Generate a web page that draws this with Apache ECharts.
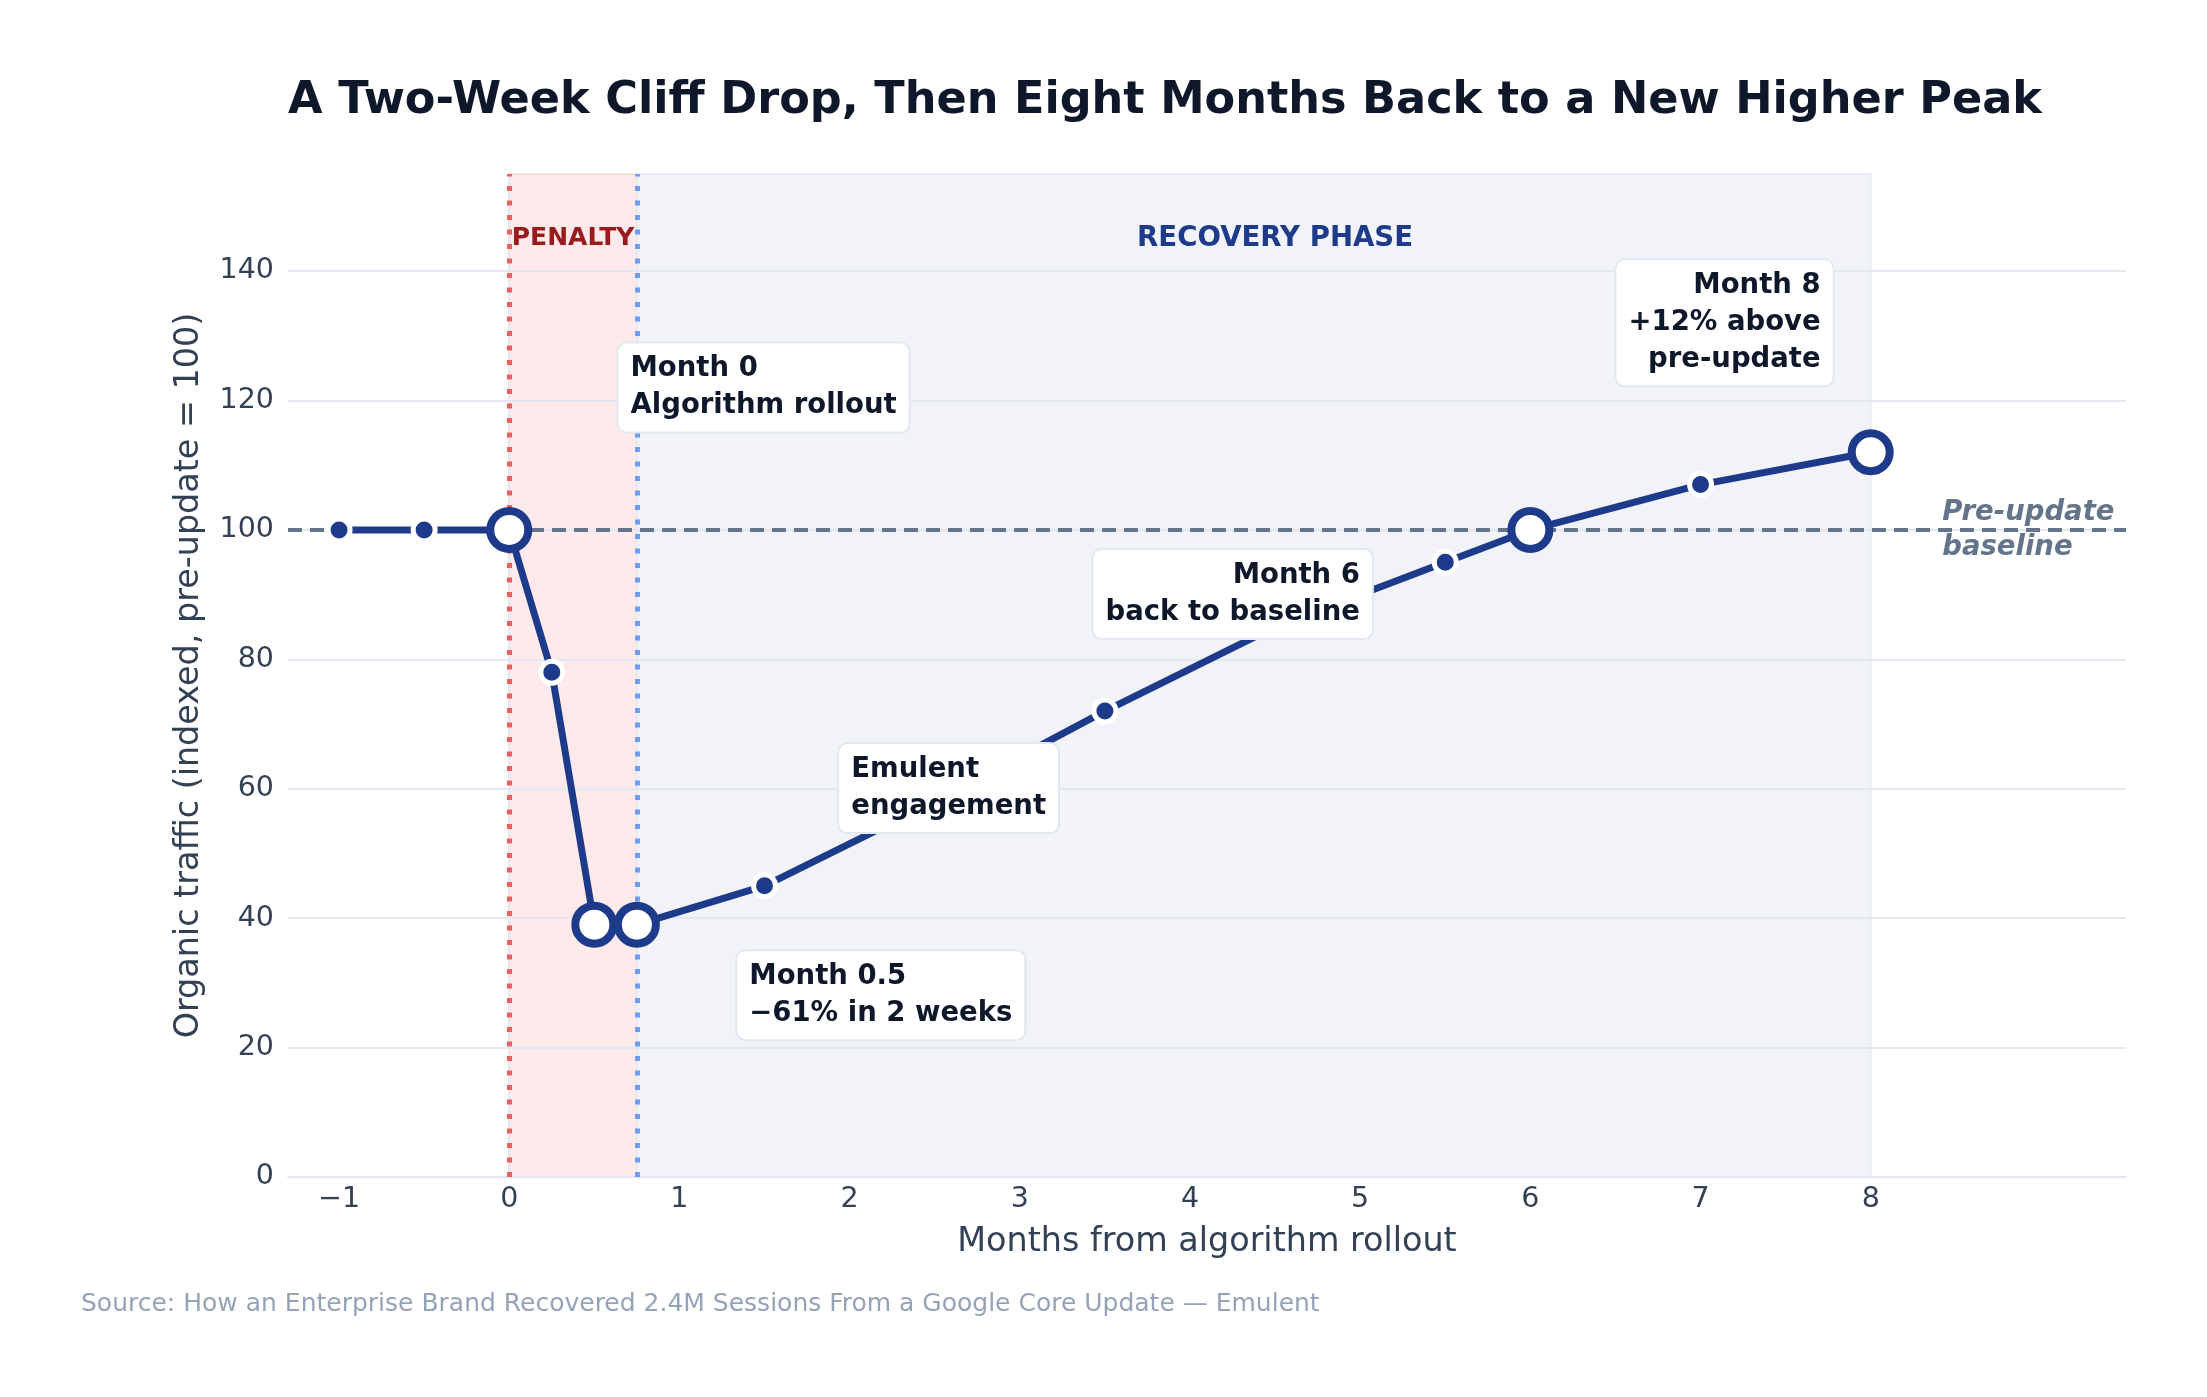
<!DOCTYPE html>
<html>
<head>
<meta charset="utf-8">
<script src="https://cdn.jsdelivr.net/npm/echarts@6/dist/echarts.min.js"></script>
<style>
    html, body { margin: 0; padding: 0; background: #ffffff; }
    #chart { width: 2207px; height: 1397px; }
</style>
</head>
<body>
<div id="chart"></div>
<script>
// ---------------- data ----------------
const months = [-1, -0.5, 0, 0.25, 0.5, 0.75, 1.5, 2.5, 3.5, 4.5, 5.5, 6, 7, 8];
const traffic = [100, 100, 100, 78, 39, 39, 45, 58, 72, 85, 95, 100, 107, 112];
const milestoneMonths = [0, 0.5, 0.75, 6, 8];

const xTicks = [-1, 0, 1, 2, 3, 4, 5, 6, 7, 8];
const yTicks = [0, 20, 40, 60, 80, 100, 120, 140];

const baselineValue = 100;
const rolloutMonth = 0;
const recoveryStart = 0.75;
const recoveryEnd = 8;

const phaseNames = ['PENALTY', 'RECOVERY PHASE'];
const phaseX = [0.375, 4.5];
const phaseY = 145;

const noteTexts = [
    'Month 0\nAlgorithm rollout',
    'Month 0.5\n\u221261% in 2 weeks',
    'Emulent\nengagement',
    'Month 6\nback to baseline',
    'Month 8\n+12% above\npre-update'
];
const noteX = [0.642, 1.34, 1.939, 5.069, 7.776];
const noteY = [122, 28.1, 60.1, 90.1, 132];
const noteSide = ['right', 'right', 'right', 'left', 'left'];

const baselineText = 'Pre-update\nbaseline';
const baselineTextX = 8.42;

// ----------------------------------------------------
const FONT = 'DejaVu Sans';
const NAVY = '#1e3a8a';

let lineData = [];
for (let i = 0; i < months.length; i++) {
    let big = milestoneMonths.indexOf(months[i]) >= 0;
    lineData.push({
        value: [months[i], traffic[i]],
        symbolSize: big ? 38 : 22,
        itemStyle: big
            ? { color: '#ffffff', borderColor: NAVY, borderWidth: 8 }
            : { color: NAVY, borderColor: '#ffffff', borderWidth: 5 }
    });
}

let noteData = [];
for (let i = 0; i < noteTexts.length; i++) {
    noteData.push({
        value: [noteX[i], noteY[i]],
        label: { position: noteSide[i], formatter: noteTexts[i] }
    });
}

let phaseData = [];
for (let i = 0; i < phaseNames.length; i++) {
    phaseData.push({
        value: [phaseX[i], phaseY],
        label: {
            formatter: phaseNames[i],
            color: i === 0 ? '#991b1b' : NAVY,
            fontSize: i === 0 ? 25 : 27.6
        }
    });
}

let chart = echarts.init(document.getElementById('chart'), null, { renderer: 'canvas' });
let option = {
    animation: false,
    backgroundColor: '#ffffff',
    textStyle: { fontFamily: FONT },
    grid: { left: 288, right: 81, top: 174, bottom: 220 },
    xAxis: {
        type: 'value',
        min: -1.3,
        max: 9.5,
        name: 'Months from algorithm rollout',
        nameLocation: 'middle',
        nameGap: 49,
        nameTextStyle: { fontSize: 33.4, color: '#334155', fontFamily: FONT },
        axisLine: { show: true, onZero: false, lineStyle: { color: '#e2e8f0', width: 2 } },
        axisTick: { show: false, customValues: xTicks },
        axisLabel: {
            customValues: xTicks,
            margin: 8,
            fontSize: 28.5,
            color: '#334155',
            fontFamily: FONT,
            formatter: function (v) { return v < 0 ? '\u2212' + Math.abs(v) : String(v); }
        },
        splitLine: { show: false }
    },
    yAxis: {
        type: 'value',
        min: 0,
        max: 155,
        name: 'Organic traffic (indexed, pre-update = 100)',
        nameLocation: 'middle',
        nameGap: 82,
        nameTextStyle: { fontSize: 33.4, color: '#334155', fontFamily: FONT },
        axisLine: { show: true, lineStyle: { color: '#e2e8f0', width: 2 } },
        axisTick: { show: false, customValues: yTicks },
        axisLabel: {
            customValues: yTicks,
            margin: 14,
            fontSize: 28.5,
            color: '#334155',
            fontFamily: FONT
        },
        splitLine: { show: true, lineStyle: { color: '#e2e8f0', width: 2 } }
    },
    series: [
        {
            // shaded phases, under the grid lines
            type: 'line',
            data: [],
            silent: true,
            markArea: {
                silent: true,
                z: -1,
                data: [
                    [{ xAxis: rolloutMonth, yAxis: 0, itemStyle: { color: '#fee9eb', borderColor: '#fbd5da', borderWidth: 1.5 } },
                     { xAxis: recoveryStart, yAxis: 155 }],
                    [{ xAxis: recoveryStart, yAxis: 0, itemStyle: { color: '#f1f3f9', borderColor: '#e3e8f1', borderWidth: 1.5 } },
                     { xAxis: recoveryEnd, yAxis: 155 }]
                ]
            }
        },
        {
            // reference lines
            type: 'line',
            data: [],
            silent: true,
            z: 1,
            markLine: {
                silent: true,
                z: 1,
                symbol: ['none', 'none'],
                label: { show: false },
                data: [
                    { yAxis: baselineValue, lineStyle: { color: '#64748b', width: 4, type: [14, 8] } },
                    { xAxis: rolloutMonth, lineStyle: { color: '#e96262', width: 5, type: [5, 9.5] } },
                    { xAxis: recoveryStart, lineStyle: { color: '#6f9cf6', width: 5, type: [5, 9.5] } }
                ]
            }
        },
        {
            name: 'Organic traffic',
            type: 'line',
            z: 3,
            data: lineData,
            symbol: 'circle',
            showAllSymbol: true,
            lineStyle: { color: NAVY, width: 7 },
            emphasis: { disabled: true }
        },
        {
            // phase names
            type: 'scatter',
            z: 4,
            silent: true,
            symbolSize: 0,
            itemStyle: { opacity: 1 },
            data: phaseData,
            label: {
                show: true,
                position: 'inside',
                fontWeight: 'bold',
                fontFamily: FONT
            }
        },
        {
            // baseline caption
            type: 'scatter',
            z: 4,
            silent: true,
            symbolSize: 0,
            itemStyle: { opacity: 1 },
            data: [[baselineTextX, baselineValue]],
            label: {
                show: true,
                position: 'right',
                distance: 0,
                formatter: baselineText,
                fontSize: 27.5,
                lineHeight: 35,
                fontWeight: 'bold',
                fontStyle: 'italic',
                color: '#64748b',
                fontFamily: FONT
            }
        },
        {
            // annotation boxes
            type: 'scatter',
            z: 10,
            silent: true,
            symbolSize: 0,
            itemStyle: { opacity: 1 },
            data: noteData,
            label: {
                show: true,
                distance: 0,
                fontSize: 27.5,
                lineHeight: 37,
                fontWeight: 'bold',
                color: '#0f172a',
                fontFamily: FONT,
                backgroundColor: '#ffffff',
                borderColor: '#e2e8f0',
                borderWidth: 2,
                borderRadius: 8,
                padding: [7, 12]
            }
        }
    ],
    graphic: [
        {
            type: 'text',
            x: 1165,
            y: 101,
            style: {
                text: 'A Two-Week Cliff Drop, Then Eight Months Back to a New Higher Peak',
                fill: '#0f172a',
                font: 'bold 44.6px "DejaVu Sans"',
                textAlign: 'center',
                textVerticalAlign: 'middle'
            }
        },
        {
            type: 'text',
            x: 81,
            y: 1304,
            style: {
                text: 'Source: How an Enterprise Brand Recovered 2.4M Sessions From a Google Core Update \u2014 Emulent',
                fill: '#94a3b8',
                font: '25px "DejaVu Sans"',
                textAlign: 'left',
                textVerticalAlign: 'middle'
            }
        }
    ]
};

chart.setOption(option);
</script>
</body>
</html>
